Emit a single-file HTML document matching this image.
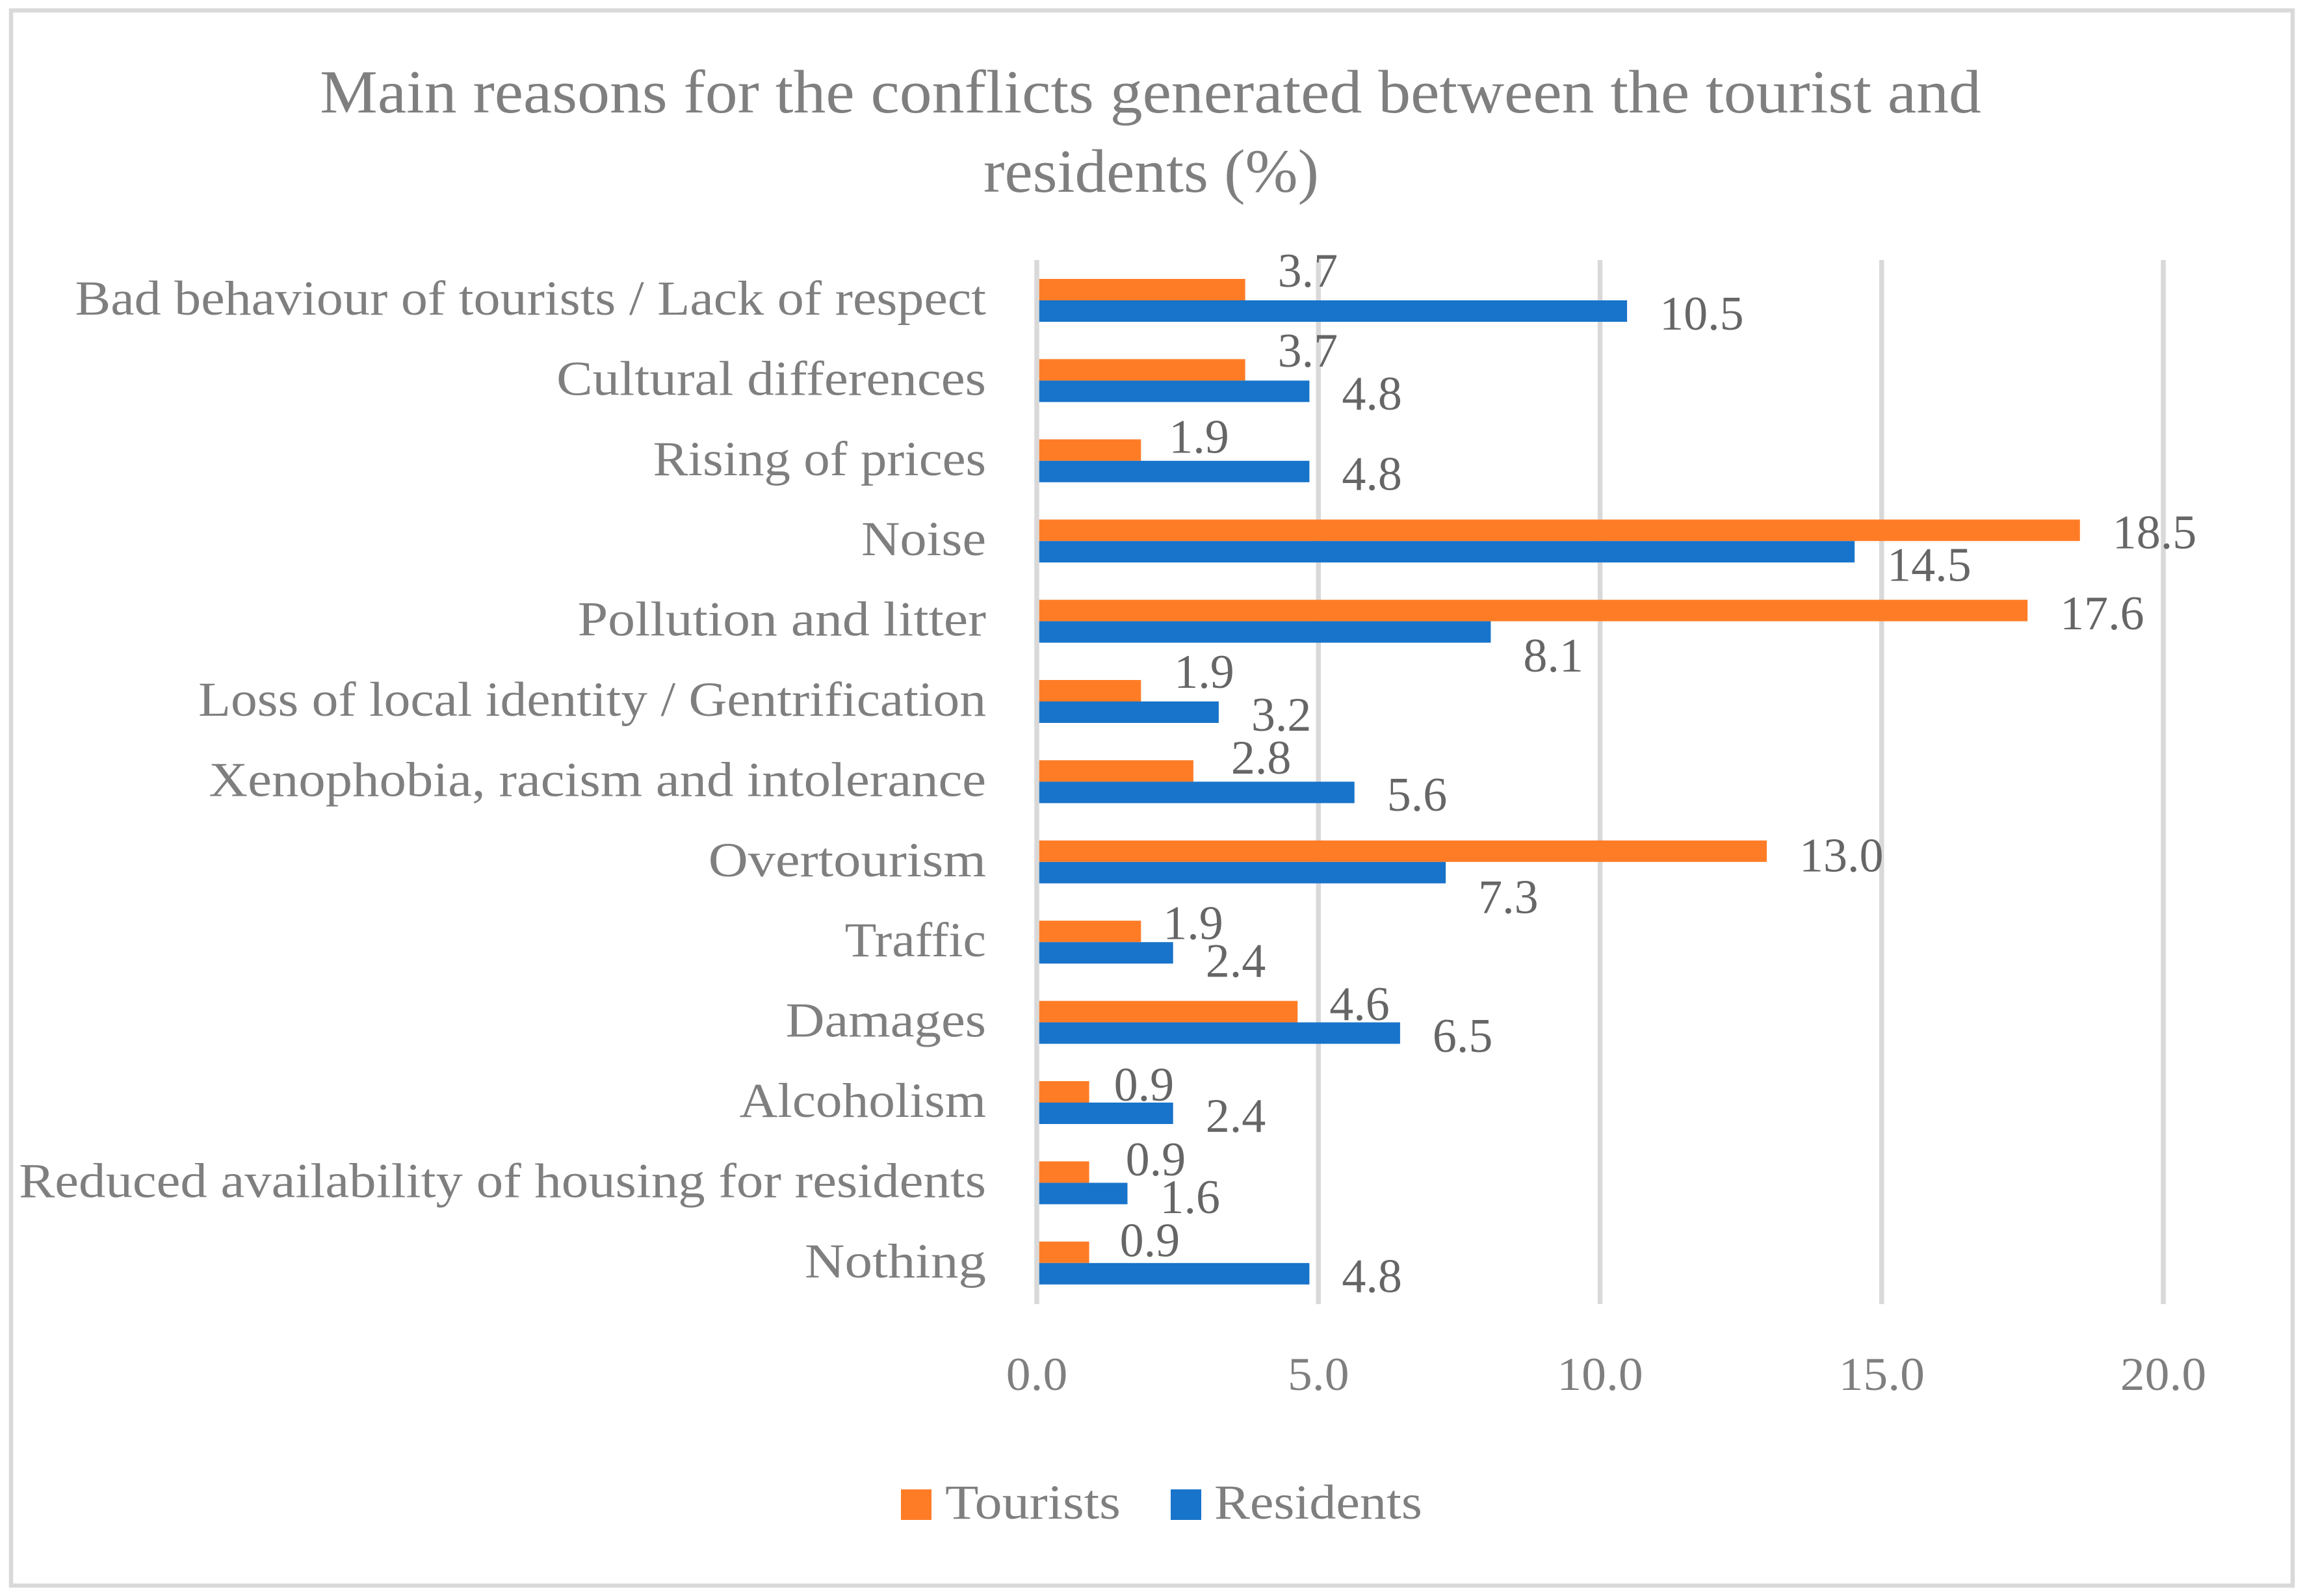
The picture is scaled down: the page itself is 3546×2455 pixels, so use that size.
<!DOCTYPE html>
<html lang="en">
<head>
<meta charset="utf-8">
<title>Main reasons for the conflicts generated between the tourist and residents (%)</title>
<style>
  html, body { margin: 0; padding: 0; background: #ffffff; }
  svg { display: block; font-family: "Liberation Serif", serif; }
</style>
</head>
<body>
<svg id="chart" xmlns="http://www.w3.org/2000/svg" width="3546" height="2455" viewBox="0 0 3546 2455">
  <rect x="0" y="0" width="3546" height="2455" fill="#ffffff"/>
  <rect x="17" y="16" width="3510" height="2423" fill="none" stroke="#d9d9d9" stroke-width="6.5"/>
  <g fill="#7f7f7f" font-size="94" text-anchor="middle">
    <text transform="translate(1770,173) scale(1.061,1)">Main reasons for the conflicts generated between the tourist and</text>
    <text transform="translate(1771,295) scale(1.035,1)">residents (%)</text>
  </g>
  <g id="grid"></g>
  <g id="bars"></g>
  <g id="category-labels"></g>
  <g id="value-labels"></g>
  <g id="ticks"></g>
  <g font-size="75" fill="#7f7f7f">
    <g>
      <rect x="1386" y="2291" width="47" height="47" fill="#ff7c26"/>
      <text transform="translate(1454,2336) scale(1.122,1)">Tourists</text>
    </g>
    <g>
      <rect x="1801" y="2291" width="47" height="47" fill="#1874ca"/>
      <text transform="translate(1868,2336) scale(1.097,1)">Residents</text>
    </g>
  </g>
</svg>
<script>
const categories = [
  "Bad behaviour of tourists / Lack of respect",
  "Cultural differences",
  "Rising of prices",
  "Noise",
  "Pollution and litter",
  "Loss of local identity / Gentrification",
  "Xenophobia, racism and intolerance",
  "Overtourism",
  "Traffic",
  "Damages",
  "Alcoholism",
  "Reduced availability of housing for residents",
  "Nothing"
];
const tourists = [3.7, 3.7, 1.85, 18.52, 17.59, 1.85, 2.78, 12.96, 1.85, 4.63, 0.93, 0.93, 0.93];
const residents = [10.48, 4.84, 4.84, 14.52, 8.06, 3.23, 5.64, 7.26, 2.42, 6.45, 2.42, 1.61, 4.84];
const xTicks = [0, 5, 10, 15, 20];

// Hand-placed label offsets from the default outside-end position (layout, not data).
const touristLabelShiftX = [0, 0, -7, 0, 0, 1, 8, 0, -16, -1, -12, 6, -3];
const touristLabelShiftY = [-29.5, -30, -21, 3, 4, -29.5, -21, 6, -13, -12, -11.5, -20, -19];
const residentLabelShiftY = [3.5, 3, 3, 20, 36, 3.5, 3, 37, 12, 4, 3.5, 5, 3];
// Per-label horizontal fit of the substitute serif face to the original label widths (layout, not data).
const categoryLabelFit = [0.997, 1.01, 0.983, 1, 1.018, 0.991, 1.006, 1.027, 0.97, 1.007, 0.988, 1.006, 1.034];

const SVGNS = "http://www.w3.org/2000/svg";
const X0 = 1595, UNIT = 86.65;
const PLOT_TOP = 400, PLOT_BOTTOM = 2006, FIRST_CENTER = 462, PITCH = 123.4, BAR_H = 33;
const GRID_W = 7.5;
const xScale = v => X0 + v * UNIT;
const yCenter = i => FIRST_CENTER + i * PITCH;

function makeText(str, x, y, size, fill, anchor, sx) {
  const t = document.createElementNS(SVGNS, "text");
  t.textContent = str;
  t.setAttribute("transform", "translate(" + x + "," + y + ") scale(" + sx + ",1)");
  t.setAttribute("font-size", size);
  t.setAttribute("fill", fill);
  t.setAttribute("text-anchor", anchor);
  return t;
}
function makeRect(x, y, w, h, fill) {
  const r = document.createElementNS(SVGNS, "rect");
  r.setAttribute("x", x);
  r.setAttribute("y", y);
  r.setAttribute("width", w);
  r.setAttribute("height", h);
  r.setAttribute("fill", fill);
  return r;
}

const gridG = document.getElementById("grid");
const barsG = document.getElementById("bars");
const catG = document.getElementById("category-labels");
const valG = document.getElementById("value-labels");
const tickG = document.getElementById("ticks");

xTicks.forEach(function (v) {
  const line = makeRect(xScale(v) - GRID_W / 2, PLOT_TOP, GRID_W, PLOT_BOTTOM - PLOT_TOP, "#d9d9d9");
  
  
  gridG.appendChild(line);
  const label = makeText(v.toFixed(1), xScale(v), 2138, 72, "#7f7f7f", "middle", 1.05);
  
  
  tickG.appendChild(label);
});

categories.forEach(function (name, i) {
  const cy = yCenter(i);
  const barLeft = xScale(0) + GRID_W / 2;

  const cat = makeText(name, 1517, cy + 22, 75, "#7f7f7f", "end", 1.0976 * categoryLabelFit[i]);
  
  
  catG.appendChild(cat);

  const tBar = makeRect(barLeft, cy - BAR_H, Math.max(0, xScale(tourists[i]) - barLeft), BAR_H, "#ff7c26");
  
  
  barsG.appendChild(tBar);

  const rBar = makeRect(barLeft, cy, Math.max(0, xScale(residents[i]) - barLeft), BAR_H, "#1874ca");
  
  
  barsG.appendChild(rBar);

  const tLabel = makeText(tourists[i].toFixed(1), xScale(tourists[i]) + 50 + touristLabelShiftX[i], cy - BAR_H / 2 + 25 + touristLabelShiftY[i], 74, "#666666", "start", 1);
  
  
  valG.appendChild(tLabel);

  const rLabel = makeText(residents[i].toFixed(1), xScale(residents[i]) + 50, cy + BAR_H / 2 + 25 + residentLabelShiftY[i], 74, "#666666", "start", 1);
  
  
  valG.appendChild(rLabel);
});
</script>
</body>
</html>
